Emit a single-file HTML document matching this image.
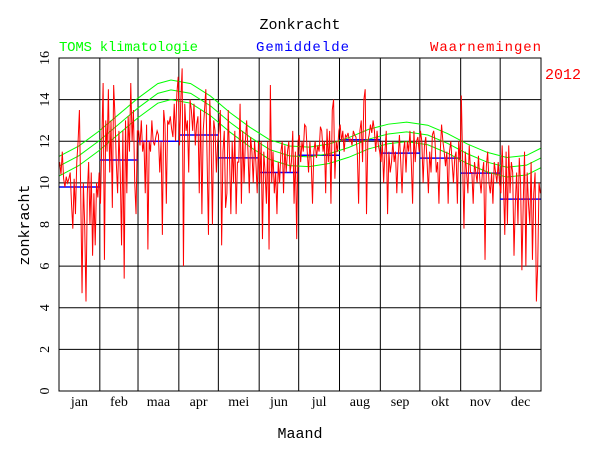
<!DOCTYPE html>
<html><head><meta charset="utf-8"><style>
html,body{margin:0;padding:0;background:#fff;}
svg{display:block;font-family:"Liberation Serif","DejaVu Serif",serif;}
.mono{font-family:"Liberation Mono","DejaVu Sans Mono",monospace;}
</style></head><body>
<svg id="chart" width="600" height="450" viewBox="0 0 600 450">
<text class="mono" x="300" y="29" text-anchor="middle" font-size="15">Zonkracht</text>
<text class="mono" x="59" y="51" font-size="14" textLength="139" fill="#00ff00">TOMS klimatologie</text>
<text class="mono" x="256" y="51" font-size="14" textLength="93" fill="#0000ff">Gemiddelde</text>
<text class="mono" x="430" y="51" font-size="14" textLength="111" fill="#ff0000">Waarnemingen</text>
<text class="mono" x="545" y="79" font-size="15" fill="#ff0000">2012</text>
<text class="mono" x="300" y="438" text-anchor="middle" font-size="15">Maand</text>
<text class="mono" transform="translate(29,225) rotate(-90)" text-anchor="middle" font-size="15">zonkracht</text>
<g id="grid"></g><g id="series"></g><g id="axes"></g>
</svg>
<script>
const monthLabels=["jan","feb","maa","apr","mei","jun","jul","aug","sep","okt","nov","dec"];
const monthDays=[31,29,31,30,31,30,31,31,30,31,30,31];
const monthMeans=[9.8,11.1,12.0,12.3,11.2,10.5,11.33,12.07,11.43,11.19,10.47,9.22];
const yTicks=[0,2,4,6,8,10,12,14,16];
const climDays=[0,15,30,45,60,75,85,100,115,130,145,160,175,190,205,220,235,250,264,280,295,310,325,340,355,366];
const climMid=[10.8,11.3,12.0,12.8,13.6,14.3,14.47,14.3,13.7,12.9,12.2,11.6,11.3,11.25,11.4,11.7,12.1,12.35,12.45,12.3,11.9,11.4,11.0,10.75,10.85,11.2];
const climBand=[0.47];
const obs=[
11,10.4,11.5,10.2,9.8,10.3,10,10.2,10.5,9,7.8,10.2,8.5,11,12,13.5,9.5,4.7,10,8,4.3,9.5,11,8,10.5,6.5,9.5,7,10,9.3,10.5,
9,12,14.8,6.3,13,11.5,14.5,10.5,13,8.8,14.7,13.2,11,9.5,12.5,10.5,7,12.5,5.4,13,9.5,13.2,11.5,14.8,12,13.5,10,8.5,12.5,
12.5,11.8,13,11.5,12,9.5,12.8,6.8,12,11.5,13,12,11.8,12.2,12.5,12.3,10.5,12,7.5,13.5,12.8,9,13,12.8,13.2,12.6,12.2,13.8,12,14.3,15.1,
11.8,14,15.5,6,13.8,12.5,13,10.5,14,13.5,12.5,13.8,11.8,12.8,13.2,9.5,13.5,8.5,12.5,13.5,14.5,11,7.5,14,12,8,13,12.5,10.5,12,
12.5,13.5,7,11.5,12.5,8.8,9.5,13.5,11.2,8.5,12,10,12.5,8.5,11,11,13.8,9,12.5,10,12,13,11.5,9.5,12.2,11.5,10,12,11,9.5,12,
10,12,7.3,11.5,10.5,9,12,6.8,14.7,10,11.5,9.5,10.5,8.5,11,10,11.5,12,9.5,11.8,10.5,11.5,12,10.5,11,12.5,9,11.5,7.3,12,
12.3,11,12,11.5,12.8,12.7,11.5,10.5,12,11,9,11.5,12,11.2,11.8,11.5,12.7,12.5,11.5,12,9.5,12.6,11,12.5,9,13.5,14,10.2,12,11.5,12.5,
12.8,12,12.5,11.5,12.3,12.2,12.4,12,12.1,11.8,12.5,12.3,12.2,11.5,9,12.5,13,11,14,14.5,8.5,12,12.3,12.8,12.4,13,12.5,11.5,12.5,11.8,11.5,
11,12,10,11.5,12.5,8.5,11.5,10.5,11,12,11,11.5,9.5,11.2,12.3,11,9.5,11.5,12,10.5,12,11.5,12.5,11,9,12.5,11,12,12.2,11.5,
12.5,12,10,11.8,12.2,11,9.5,11.5,10.5,12.3,12.5,12,10.5,11,9,11.5,12.8,12,11.5,10.8,11.5,9,11.5,12,11,10,11.2,11.5,9,12,11,
14.2,11,7.8,11.5,10.5,9.5,11.8,10.5,10.5,9,11,10.5,10,11.3,10.2,9.5,10.5,11,6.3,10.8,11.5,10,9.5,10.5,9,11,10.5,10,11,10,
9.5,11.8,10,7.5,11.5,8,11.8,9.5,11,10.5,6.5,9,10.5,8,11.2,10,5.8,9,11.5,6,10.5,9,8,11,6.3,9.5,10.5,4.3,6,10,9.5];

const X0=59,X1=541,Y0=391,Y1=58,NDAYS=366;
const xs=d=>X0+d/NDAYS*(X1-X0);
const ys=v=>Y0-(v-0)/16*(Y0-Y1);
const NS="http://www.w3.org/2000/svg";
function mk(tag,parent,attrs){const e=document.createElementNS(NS,tag);for(const k in attrs)e.setAttribute(k,attrs[k]);parent.appendChild(e);return e;}
const grid=document.getElementById('grid'),series=document.getElementById('series'),axes=document.getElementById('axes');
yTicks.forEach(t=>{
  const l=mk('line',grid,{x1:X0,x2:X1,y1:ys(t),y2:ys(t),stroke:'#000','stroke-width':1});
  
  
  const tx=mk('text',axes,{transform:`translate(${X0-10},${ys(t)}) rotate(-90)`,'text-anchor':'middle','font-size':14});
  tx.textContent=t;
  
  
});
let start=0;
monthDays.forEach((n,i)=>{
  const xa=xs(start),xb=xs(start+n);
  const l=mk('line',grid,{x1:xa,x2:xa,y1:Y0,y2:Y1,stroke:'#000','stroke-width':1});
  
  
  const tx=mk('text',axes,{x:(xa+xb)/2,y:Y0+15,'text-anchor':'middle','font-size':14});
  tx.textContent=monthLabels[i];
  
  
  const m=mk('line',series,{x1:xa,x2:xb,y1:ys(monthMeans[i]),y2:ys(monthMeans[i]),stroke:'#0000ff','stroke-width':1.5});
  
  
  start+=n;
});
[-1,0,1].forEach(s=>{
  const pts=climDays.map((d,i)=>xs(d)+','+ys(climMid[i]+s*climBand[0])).join(' ');
  const p=mk('polyline',series,{points:pts,fill:'none',stroke:'#00ff00','stroke-width':1});
  
  
});
const op=mk('polyline',series,{points:obs.map((v,i)=>xs(i+0.5)+','+ys(v)).join(' '),fill:'none',stroke:'#ff0000','stroke-width':1});


const fr=mk('rect',axes,{x:X0,y:Y1,width:X1-X0,height:Y0-Y1,fill:'none',stroke:'#000','stroke-width':1});


</script>
</body></html>
